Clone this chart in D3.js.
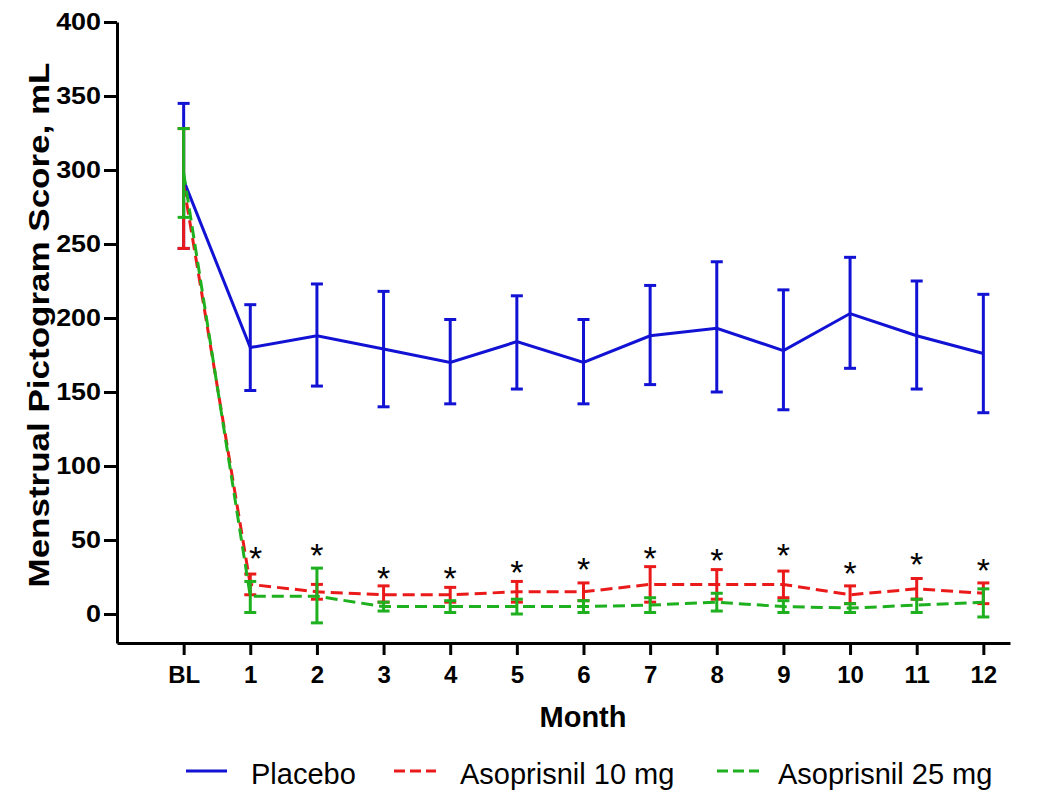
<!DOCTYPE html>
<html>
<head>
<meta charset="utf-8">
<script src="https://cdn.jsdelivr.net/npm/d3@7"></script>
<style>
  body { margin: 0; background: #fff; }
  svg { font-family: Arial, "Liberation Sans", sans-serif; }
</style>
</head>
<body>
<svg id="chart" width="1047" height="794"></svg>
<script>
// months: 0 = baseline (BL)
const months = [0, 1, 2, 3, 4, 5, 6, 7, 8, 9, 10, 11, 12];
const monthLabels = ["BL", "1", "2", "3", "4", "5", "6", "7", "8", "9", "10", "11", "12"];

// mean, lower and upper error bounds
const placeboMean = [293, 180, 188, 179, 170, 184, 170, 188, 193, 178, 203, 188, 176];
const placeboLow = [247, 151, 154, 140, 142, 152, 142, 155, 150, 138, 166, 152, 136];
const placeboHigh = [345, 209, 223, 218, 199, 215, 199, 222, 238, 219, 241, 225, 216];

const aso10Mean = [290, 20, 15, 13, 13, 15, 15, 20, 20, 20, 13, 17, 14];
const aso10Low = [247, 13, 10, 8, 8, 8, 9, 8, 10, 11, 7, 10, 7];
const aso10High = [328, 27, 20, 19, 18, 22, 21, 32, 30, 29, 19, 24, 21];

const aso25Mean = [298, 12, 12, 5, 5, 5, 5, 6, 8, 5, 4, 6, 8];
const aso25Low = [268, 1, -6, 2, 1, 0, 1, 1, 2, 1, 1, 1, -2];
const aso25High = [328, 22, 31, 8, 9, 10, 9, 11, 14, 9, 7, 10, 17];

// asterisk positions (significance marks), months 1..12
const starMonths = [1.08, 2, 3, 4, 5, 6, 7, 8, 9, 10, 11, 12];
const starValues = [43, 45, 30, 30, 34, 36, 43, 42, 45, 33, 39, 35];

const series = [
  { name: "Placebo", color: "#1212d4", dash: null, mean: placeboMean, low: placeboLow, high: placeboHigh },
  { name: "Asoprisnil 10 mg", color: "#ea1a1a", dash: "12,6", mean: aso10Mean, low: aso10Low, high: aso10High },
  { name: "Asoprisnil 25 mg", color: "#1eb01e", dash: "12,6", mean: aso25Mean, low: aso25Low, high: aso25High }
];

const svg = d3.select("#chart");

const x = d3.scaleLinear().domain([-1, 12.4]).range([117, 1010]);
const y = d3.scaleLinear().domain([0, 400]).range([614, 22]);
const yAxisScale = d3.scaleLinear().domain([y.invert(643), 400]).range([643, 22]);

// y axis
const yAxis = svg.append("g")
  .attr("transform", "translate(117,0)")
  .call(d3.axisLeft(yAxisScale).tickValues(d3.range(0, 401, 50)).tickSizeOuter(0).tickSizeInner(13).tickPadding(3));

// x axis
const xAxis = svg.append("g")
  .attr("transform", "translate(0,643)")
  .call(d3.axisBottom(x).tickValues(months).tickFormat((d, i) => monthLabels[i]).tickSizeOuter(0).tickSizeInner(12).tickPadding(11));

[yAxis, xAxis].forEach((g) => {
  g.select(".domain").attr("stroke", "#000").attr("stroke-width", 3);
  g.selectAll(".tick line").attr("stroke", "#000").attr("stroke-width", 3);
  g.selectAll(".tick text").attr("fill", "#000").attr("font-size", 24).attr("font-weight", "bold");
});
// stretch y tick labels slightly like the reference
yAxis.selectAll(".tick text").attr("textLength", function () { return this.getComputedTextLength() * 1.12; })
  .attr("lengthAdjust", "spacingAndGlyphs");

// axis titles
svg.append("text")
  .attr("transform", "translate(49,325) rotate(-90)")
  .attr("text-anchor", "middle")
  .attr("font-size", 29)
  .attr("font-weight", "bold")
  .attr("textLength", 525)
  .attr("lengthAdjust", "spacingAndGlyphs")
  .text("Menstrual Pictogram Score, mL");

svg.append("text")
  .attr("x", 583)
  .attr("y", 727)
  .attr("text-anchor", "middle")
  .attr("font-size", 29)
  .attr("font-weight", "bold")
  .text("Month");

// series: lines and error bars
const line = d3.line().x((d) => x(d[0])).y((d) => y(d[1]));

series.forEach((s) => {
  const g = svg.append("g");
  const pts = months.map((m, i) => [m, s.mean[i]]);
  g.append("path")
    .attr("d", line(pts))
    .attr("fill", "none")
    .attr("stroke", s.color)
    .attr("stroke-width", 3)
    .attr("stroke-dasharray", s.dash);

  months.forEach((m, i) => {
    const cx = x(m);
    g.append("line")
      .attr("x1", cx).attr("x2", cx)
      .attr("y1", y(s.low[i])).attr("y2", y(s.high[i]))
      .attr("stroke", s.color).attr("stroke-width", 3);
    [s.low[i], s.high[i]].forEach((v) => {
      g.append("line")
        .attr("x1", cx - 6).attr("x2", cx + 6)
        .attr("y1", y(v)).attr("y2", y(v))
        .attr("stroke", s.color).attr("stroke-width", 3);
    });
  });
});

// asterisks
svg.selectAll(".star")
  .data(starMonths)
  .enter()
  .append("text")
  .attr("class", "star")
  .attr("x", (d) => x(d))
  .attr("y", (d, i) => y(starValues[i]) + 20)
  .attr("text-anchor", "middle")
  .attr("font-size", 34)
  .text("*");

// legend
const legendItems = [
  { s: series[0], x1: 186, x2: 227, tx: 251 },
  { s: series[1], x1: 394, x2: 436, tx: 460 },
  { s: series[2], x1: 717, x2: 759, tx: 778 }
];
legendItems.forEach((d) => {
  svg.append("line")
    .attr("x1", d.x1).attr("x2", d.x2)
    .attr("y1", 771).attr("y2", 771)
    .attr("stroke", d.s.color).attr("stroke-width", 3)
    .attr("stroke-dasharray", d.s.dash ? "11,5" : null);
  svg.append("text")
    .attr("x", d.tx)
    .attr("y", 784)
    .attr("font-size", 29)
    .text(d.s.name);
});
</script>
</body>
</html>
